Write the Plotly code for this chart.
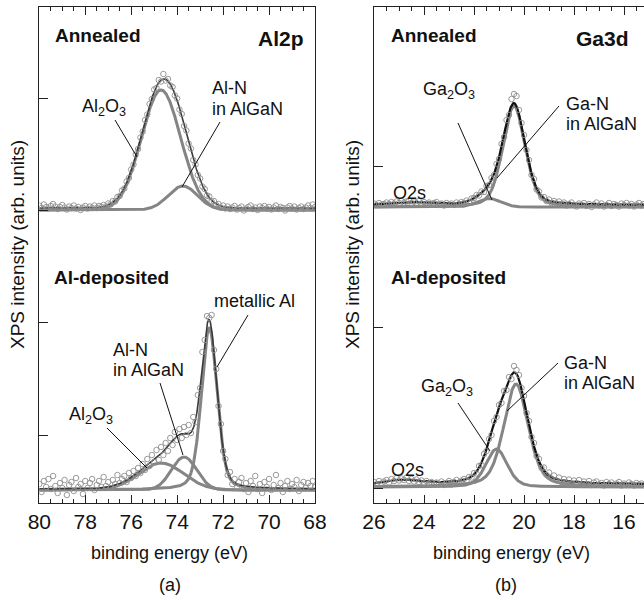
import numpy as np
import plotly.graph_objects as go

# ---------------- measured spectra ----------------
# binding-energy grids (eV), 0.1 eV steps
al2p_energy = np.round(np.linspace(80.0, 68.0, 121), 2)
ga3d_energy = np.round(np.linspace(26.0, 15.2, 109), 2)

# Al2p intensities (arb. units, above each spectrum's own baseline)
al2p_annealed = [
    4.5, 2.0, 5.5, 3.0, 1.5, 4.0, 6.0, 3.5, 1.0, 3.0,
    5.0, 2.5, 0.5, 3.5, 2.0, 4.5, 1.5, 3.0, 0.0, 2.5,
    4.0, 1.5, 3.5, 2.0, 4.5, 2.0, 4.0, 3.0, 5.0, 3.5,
    6.5, 5.5, 9.0, 8.5, 13.0, 14.0, 19.5, 21.5, 28.5, 32.0,
    40.5, 45.5, 55.5, 61.0, 72.5, 78.5, 90.0, 95.5, 106.0, 111.0,
    120.5, 122.0, 130.0, 128.5, 136.0, 129.5, 131.0, 124.5, 123.0, 114.5,
    111.5, 100.5, 96.0, 84.0, 79.5, 66.5, 61.5, 50.0, 45.5, 35.0,
    31.5, 23.5, 21.0, 14.5, 13.5, 8.5, 9.0, 5.0, 6.0, 2.5,
    4.5, 1.5, 3.5, 1.0, 2.5, 4.0, 0.5, 2.0, 3.5, -0.5,
    1.5, 3.0, 4.5, 1.0, 2.5, 0.0, 3.5, 2.0, 4.0, 1.5,
    3.0, 0.5, 2.5, 4.5, 1.0, 3.0, 2.0, -0.5, 2.5, 4.0,
    1.5, 3.5, 0.5, 2.0, 3.5, 1.0, 2.5, 4.5, 2.0, 5.5, 3.0,
]
al2p_deposited = [
    6, -2, 9, 3, 11, 1, 14, 4, -3, 7,
    2, 10, -5, 5, 8, -1, 12, 3, 6, -4,
    9, 2, 7, 11, 0, 5, 9, 3, 13, 4,
    8, 2, 10, 6, 15, 7, 11, 14, 8, 17,
    12, 19, 14, 22, 17, 26, 20, 31, 24, 35,
    28, 40, 30, 43, 35, 47, 39, 52, 45, 58,
    50, 61, 52, 63, 55, 65, 57, 73, 68, 95,
    102, 138, 150, 174, 172, 175, 140, 121, 84, 66,
    39, 31, 15, 18, 6, 11, 2, 8, 12, 1,
    7, -2, 9, 4, 14, 1, 6, -3, 8, 3,
    11, 0, 5, 15, 2, 7, -2, 4, 9, 1,
    6, 3, 10, -1, 5, 8, 2, 7, 4, 9, 3,
]

# Ga3d intensities
ga3d_annealed = [
    3.5, 2.0, 4.0, 2.5, 3.0, 4.5, 3.0, 5.0, 3.5, 5.5,
    4.0, 6.0, 4.5, 5.5, 6.5, 4.0, 5.5, 4.0, 6.0, 3.5,
    5.0, 3.0, 4.5, 2.5, 4.0, 5.0, 2.0, 3.5, 1.5, 4.0,
    2.5, 3.5, 2.0, 4.5, 3.0, 5.0, 4.0, 6.5, 5.0, 8.5,
    9.0, 12.0, 11.5, 15.5, 15.0, 21.0, 22.0, 29.0, 32.0, 43.0,
    48.0, 63.0, 70.0, 87.0, 92.0, 108.0, 113.0, 111.0, 97.0, 84.0,
    72.0, 57.0, 47.0, 32.0, 28.0, 17.5, 15.5, 9.5, 10.0, 6.0,
    7.5, 4.0, 6.0, 3.5, 5.5, 2.5, 4.5, 1.5, 3.0, 4.5,
    2.0, 0.5, 3.5, 2.0, 4.0, 1.0, 3.0, 0.0, 2.5, 4.5,
    1.5, 3.5, 0.5, 2.0, 4.0, 1.0, 3.0, 2.0, 0.5, 3.5,
    2.0, 4.0, 1.5, 3.0, 0.5, 2.5, 4.0, 1.5, 3.0,
]
ga3d_deposited = [
    5.0, 2.5, 6.0, 3.5, 5.5, 7.0, 4.5, 8.0, 6.0, 9.0,
    6.5, 8.5, 7.0, 9.5, 6.0, 8.0, 5.5, 7.5, 5.0, 6.5,
    4.0, 6.0, 3.5, 5.0, 2.5, 4.5, 3.0, 5.5, 2.0, 4.0,
    6.0, 3.5, 5.0, 7.0, 4.5, 6.5, 8.0, 6.5, 10.0, 9.5,
    14.0, 13.5, 21.0, 22.0, 33.0, 36.0, 48.0, 52.0, 66.0, 70.0,
    82.0, 84.0, 96.0, 97.0, 110.0, 108.0, 121.0, 117.0, 112.0, 99.0,
    91.0, 74.0, 66.0, 50.0, 44.0, 31.0, 28.0, 19.0, 19.5, 12.0,
    14.5, 8.5, 11.5, 6.5, 9.5, 5.0, 8.0, 4.5, 7.5, 3.5,
    6.5, 4.0, 7.0, 2.5, 5.5, 3.0, 6.0, 2.0, 4.5, 5.5,
    2.5, 4.0, 1.5, 5.0, 3.0, 4.5, 2.0, 3.5, 5.0, 1.5,
    3.5, 2.0, 4.5, 3.0, 1.5, 4.0, 2.5, 3.5, 2.0,
]

assert len(al2p_annealed) == len(al2p_deposited) == len(al2p_energy)
assert len(ga3d_annealed) == len(ga3d_deposited) == len(ga3d_energy)

# ---------------- fitted components (pseudo-Voigt) ----------------
# Al2p, annealed: Al2O3, Al-N
al2p_ann_centre = [74.7, 73.75]
al2p_ann_height = [120.0, 24.0]
al2p_ann_fwhm = [2.0, 1.5]
al2p_ann_eta = [0.0, 0.0]
al2p_ann_bg = 2.0

# Al2p, Al-deposited: Al2O3, Al-N, metallic Al
al2p_dep_centre = [74.7, 73.7, 72.6]
al2p_dep_height = [27.0, 33.0, 162.0]
al2p_dep_fwhm = [2.3, 1.3, 0.8]
al2p_dep_eta = [0.0, 0.0, 0.3]
al2p_dep_bg = 1.0

# Ga3d, annealed: Ga2O3, Ga-N (+ O2s only in the envelope)
ga3d_ann_centre = [21.4, 20.4]
ga3d_ann_height = [8.5, 101.0]
ga3d_ann_fwhm = [1.1, 1.05]
ga3d_ann_eta = [0.0, 0.3]
ga3d_ann_o2s = [24.6, 2.5, 1.6]
ga3d_ann_bg = 2.0

# Ga3d, Al-deposited
ga3d_dep_centre = [21.1, 20.32]
ga3d_dep_height = [38.0, 103.0]
ga3d_dep_fwhm = [1.0, 1.15]
ga3d_dep_eta = [0.3, 0.4]
ga3d_dep_o2s = [24.8, 4.0, 1.6]
ga3d_dep_bg = 2.5

# vertical stacking of the two spectra in each panel
STACK = 280.0

FONT = "Liberation Sans, Arial, Helvetica, sans-serif"
COMP_COLOR = "#858585"
DOT_COLOR = "#8f8f8f"


def pseudo_voigt(e, centre, height, fwhm, eta):
    sigma = fwhm / 2.3548
    gauss = np.exp(-0.5 * ((e - centre) / sigma) ** 2)
    lorentz = 1.0 / (1.0 + ((e - centre) / (fwhm / 2.0)) ** 2)
    return height * ((1.0 - eta) * gauss + eta * lorentz)


fig = go.Figure()


def add_spectrum(xa, ya, energy, counts, centres, heights, fwhms, etas, bg,
                 offset, env_color, env_width, o2s=None):
    e_fit = np.linspace(energy[0], energy[-1], 900)
    total = np.full_like(e_fit, bg)
    for c, h, w, eta in zip(centres, heights, fwhms, etas):
        comp = pseudo_voigt(e_fit, c, h, w, eta)
        total += comp
        fig.add_trace(go.Scatter(
            x=e_fit, y=comp + offset, mode="lines", xaxis=xa, yaxis=ya,
            line=dict(color=COMP_COLOR, width=3), hoverinfo="skip"))
    if o2s is not None:
        total += pseudo_voigt(e_fit, o2s[0], o2s[1], o2s[2], 0.0)
    fig.add_trace(go.Scatter(
        x=e_fit, y=total + offset, mode="lines", xaxis=xa, yaxis=ya,
        line=dict(color=env_color, width=env_width), hoverinfo="skip"))
    fig.add_trace(go.Scatter(
        x=energy, y=np.asarray(counts, dtype=float) + offset, mode="markers",
        xaxis=xa, yaxis=ya,
        marker=dict(symbol="circle-open", size=5.5, color=DOT_COLOR,
                    line=dict(width=0.9, color=DOT_COLOR))))


# Al2p panel
add_spectrum("x", "y", al2p_energy, al2p_annealed, al2p_ann_centre,
             al2p_ann_height, al2p_ann_fwhm, al2p_ann_eta, al2p_ann_bg,
             STACK, "#3a3a3a", 1.6)
add_spectrum("x", "y", al2p_energy, al2p_deposited, al2p_dep_centre,
             al2p_dep_height, al2p_dep_fwhm, al2p_dep_eta, al2p_dep_bg,
             0.0, "#3a3a3a", 1.6)
# Ga3d panel
add_spectrum("x2", "y2", ga3d_energy, ga3d_annealed, ga3d_ann_centre,
             ga3d_ann_height, ga3d_ann_fwhm, ga3d_ann_eta, ga3d_ann_bg,
             STACK, "#111111", 2.2, o2s=ga3d_ann_o2s)
add_spectrum("x2", "y2", ga3d_energy, ga3d_deposited, ga3d_dep_centre,
             ga3d_dep_height, ga3d_dep_fwhm, ga3d_dep_eta, ga3d_dep_bg,
             0.0, "#111111", 2.2, o2s=ga3d_dep_o2s)

# ---------------- layout ----------------
W, H = 644, 600


def px(x):
    return x / W


def py(y):
    return 1.0 - y / H


AX = "#222222"
xcommon = dict(showline=True, linecolor=AX, linewidth=1.2, mirror="ticks",
               ticks="inside", ticklen=8, tickwidth=1.2, tickcolor=AX,
               dtick=2, tick0=0, showgrid=False, zeroline=False,
               automargin=False,
               tickfont=dict(family=FONT, size=21, color="#111"),
               minor=dict(dtick=0.5, ticks="inside", ticklen=4,
                          tickwidth=1, tickcolor=AX, showgrid=False))
ycommon = dict(showline=True, linecolor=AX, linewidth=1.2, ticks="inside",
               ticklen=9, tickwidth=1.2, tickcolor=AX, showticklabels=False,
               showgrid=False, zeroline=False, automargin=False,
               domain=[py(503), py(7)])

fig.update_layout(
    width=W, height=H, margin=dict(l=0, r=0, t=0, b=0),
    paper_bgcolor="white", plot_bgcolor="white", showlegend=False,
    xaxis=dict(xcommon, domain=[px(39.3), px(315)], range=[80, 68], anchor="y"),
    yaxis=dict(ycommon, range=[-13, 483], tick0=55, dtick=112.3,
               mirror=True, anchor="x"),
    xaxis2=dict(xcommon, domain=[px(374), 1.0], range=[26, 15.2], anchor="y2"),
    yaxis2=dict(ycommon, range=[-16, 480], tick0=-1, dtick=161,
                mirror=False, anchor="x2"),
)

annotations = []


def label(x, y, text, size=18, bold=False, xanchor="left", angle=0):
    if bold:
        text = "<b>" + text + "</b>"
    annotations.append(dict(
        x=px(x), y=py(y), xref="paper", yref="paper", text=text,
        showarrow=False, xanchor=xanchor, yanchor="middle", textangle=angle,
        font=dict(family=FONT, size=size, color="#111")))


# Al2p panel labels
label(53, 35, "Annealed", 19, True)
label(306, 38, "Al2p", 21, True, "right")
label(80, 108, "Al<sub>2</sub>O<sub>3</sub>")
label(210, 88, "Al-N")
label(210, 108.5, "in AlGaN")
label(52, 277, "Al-deposited", 19, True)
label(212, 301, "metallic Al")
label(111, 350, "Al-N")
label(111, 370, "in AlGaN")
label(67, 415, "Al<sub>2</sub>O<sub>3</sub>")

# Ga3d panel labels
label(389, 35, "Annealed", 19, True)
label(631, 38, "Ga3d", 21, True, "right")
label(421, 91, "Ga<sub>2</sub>O<sub>3</sub>")
label(564, 104, "Ga-N")
label(564, 124, "in AlGaN")
label(391, 193, "O2s")
label(389, 277, "Al-deposited", 19, True)
label(419, 388, "Ga<sub>2</sub>O<sub>3</sub>")
label(562, 363, "Ga-N")
label(562, 383, "in AlGaN")
label(389, 470, "O2s")

# axis titles and panel tags
label(17, 245, "XPS intensity (arb. units)", 19, xanchor="center", angle=-90)
label(352, 245, "XPS intensity (arb. units)", 19, xanchor="center", angle=-90)
label(169, 553, "binding energy (eV)", 18, xanchor="center")
label(512, 553, "binding energy (eV)", 18, xanchor="center")
label(170, 585, "(a)", 18, xanchor="center")
label(506, 585, "(b)", 18, xanchor="center")

fig.update_layout(annotations=annotations)

# leader lines from labels to peaks
leaders = [
    ((115, 120), (137, 157)),
    ((220, 122), (182, 187)),
    ((248, 315), (217, 367)),
    ((160, 383), (183, 455)),
    ((107, 428), (147, 468)),
    ((458, 123), (492, 200)),
    ((559, 106), (497, 178)),
    ((458, 403), (490, 451)),
    ((558, 363), (507, 411)),
]
for (x0, y0), (x1, y1) in leaders:
    fig.add_shape(type="line", xref="paper", yref="paper",
                  x0=px(x0), y0=py(y0), x1=px(x1), y1=py(y1),
                  line=dict(color="#111", width=1))

fig.write_html("out.html")
